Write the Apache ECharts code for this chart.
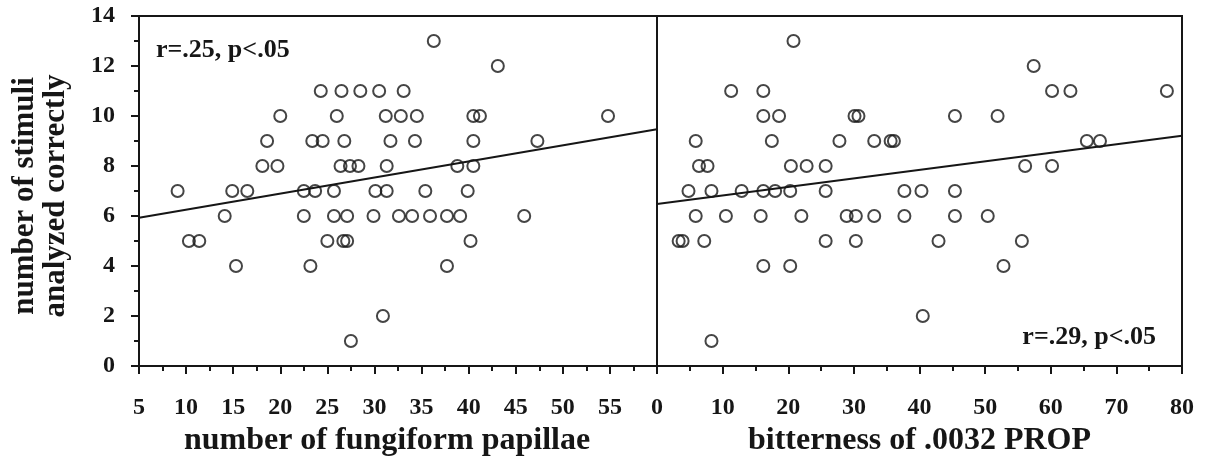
<!DOCTYPE html>
<html>
<head>
<meta charset="utf-8">
<script src="https://cdn.jsdelivr.net/npm/echarts@6/dist/echarts.min.js"></script>
<style>html,body{margin:0;padding:0;background:#fff;}#c{width:1208px;height:458px;}</style>
</head>
<body>
<div id="c"></div>
<script>
// Left panel: number of fungiform papillae vs number of stimuli analyzed correctly
var leftX = [36.3, 43.1,
  24.3, 26.5, 28.5, 30.5, 33.1,
  20.0, 26.0, 31.2, 32.8, 34.5, 40.5, 41.2, 54.8,
  18.6, 23.4, 24.5, 26.8, 31.7, 34.3, 40.5, 47.3,
  18.1, 19.7, 26.4, 27.4, 28.3, 31.3, 38.8, 40.5,
  9.1, 14.9, 16.5, 22.5, 23.7, 25.7, 30.1, 31.3, 35.4, 39.9,
  14.1, 22.5, 25.7, 27.1, 29.9, 32.6, 34.0, 35.9, 37.7, 39.1, 45.9,
  10.3, 11.4, 25.0, 26.7, 27.1, 40.2,
  15.3, 23.2, 37.7,
  30.9, 27.5];
var leftY = [13, 12,
  11, 11, 11, 11, 11,
  10, 10, 10, 10, 10, 10, 10, 10,
  9, 9, 9, 9, 9, 9, 9, 9,
  8, 8, 8, 8, 8, 8, 8, 8,
  7, 7, 7, 7, 7, 7, 7, 7, 7, 7,
  6, 6, 6, 6, 6, 6, 6, 6, 6, 6, 6,
  5, 5, 5, 5, 5, 5,
  4, 4, 4,
  2, 1];
// Right panel: bitterness of .0032 PROP
var rightX = [20.8, 57.4,
  11.3, 16.2, 60.2, 63.0, 77.7,
  16.2, 18.6, 30.1, 30.7, 45.4, 51.9,
  5.9, 17.5, 27.8, 33.1, 35.6, 36.1, 65.5, 67.5,
  6.4, 7.7, 20.4, 22.8, 25.7, 56.1, 60.2,
  4.8, 8.3, 12.9, 16.2, 18.0, 20.3, 25.7, 37.7, 40.3, 45.4,
  5.9, 10.5, 15.8, 22.0, 28.9, 30.3, 33.1, 37.7, 45.4, 50.4,
  3.3, 3.9, 7.2, 25.7, 30.3, 42.9, 55.6,
  16.2, 20.3, 52.8,
  40.5, 8.3];
var rightY = [13, 12,
  11, 11, 11, 11, 11,
  10, 10, 10, 10, 10, 10,
  9, 9, 9, 9, 9, 9, 9, 9,
  8, 8, 8, 8, 8, 8, 8,
  7, 7, 7, 7, 7, 7, 7, 7, 7, 7,
  6, 6, 6, 6, 6, 6, 6, 6, 6, 6,
  5, 5, 5, 5, 5, 5, 5,
  4, 4, 4,
  2, 1];
// Regression lines (end points)
var leftFitX = [5, 60];
var leftFitY = [5.93, 9.47];
var rightFitX = [0, 80];
var rightFitY = [6.48, 9.21];
// Labels
var yTitleLines = ['number of stimuli', 'analyzed correctly'];
var leftXTitle = 'number of fungiform papillae';
var rightXTitle = 'bitterness of .0032 PROP';
var leftStat = 'r=.25, p<.05';
var rightStat = 'r=.29, p<.05';

function zip(a, b) { return a.map(function (v, i) { return [v, b[i]]; }); }

var INK = '#161616';
var FONT = 'Liberation Serif';
var labelStyle = { fontFamily: FONT, fontWeight: 'bold', fontSize: 24, color: INK };

var chart = echarts.init(document.getElementById('c'), null, { renderer: 'canvas' });

function xAxisCfg(idx, min, max, interval, name, hideMax, namePad) {
  return {
    type: 'value', gridIndex: idx, min: min, max: max, interval: interval,
    name: name, nameLocation: 'middle', nameGap: 47,
    nameTextStyle: { fontFamily: FONT, fontWeight: 'bold', fontSize: 32, color: INK, padding: namePad },
    axisLine: { show: true, onZero: false, lineStyle: { color: INK, width: 2 } },
    axisTick: { show: true, length: 8, lineStyle: { color: INK, width: 2 } },
    minorTick: { show: true, splitNumber: 2, length: 5, lineStyle: { color: INK, width: 2 } },
    splitLine: { show: false },
    axisLabel: Object.assign({ margin: 30, showMinLabel: true, showMaxLabel: true,
      formatter: function (v) { return (hideMax && v === max) ? '' : String(v); } }, labelStyle)
  };
}

chart.setOption({
  animation: false,
  backgroundColor: '#fff',
  grid: [
    { left: 139, top: 16, width: 518, height: 350, outerBoundsMode: 'none', containLabel: false,
      show: true, borderColor: INK, borderWidth: 2, backgroundColor: 'transparent' },
    { left: 657, top: 16, width: 525, height: 350, outerBoundsMode: 'none', containLabel: false,
      show: true, borderColor: INK, borderWidth: 2, backgroundColor: 'transparent' }
  ],
  xAxis: [
    xAxisCfg(0, 5, 60, 5, leftXTitle, true, [0, 22, 0, 0]),
    xAxisCfg(1, 0, 80, 10, rightXTitle, false, [0, 0, 0, 0])
  ],
  yAxis: [
    {
      type: 'value', gridIndex: 0, min: 0, max: 14, interval: 2,
      axisLine: { show: true, onZero: false, lineStyle: { color: INK, width: 2 } },
      axisTick: { show: true, length: 8, lineStyle: { color: INK, width: 2 } },
      minorTick: { show: true, splitNumber: 2, length: 5, lineStyle: { color: INK, width: 2 } },
      splitLine: { show: false },
      axisLabel: Object.assign({ margin: 24 }, labelStyle)
    },
    {
      type: 'value', gridIndex: 1, min: 0, max: 14, interval: 2,
      axisLine: { show: true, onZero: false, lineStyle: { color: INK, width: 2 } },
      axisTick: { show: false }, minorTick: { show: false },
      splitLine: { show: false }, axisLabel: { show: false }
    }
  ],
  series: [
    {
      type: 'scatter', xAxisIndex: 0, yAxisIndex: 0, data: zip(leftX, leftY),
      symbol: 'circle', symbolSize: 12,
      itemStyle: { color: 'rgba(0,0,0,0)', borderColor: INK, borderWidth: 2 }
    },
    {
      type: 'scatter', xAxisIndex: 1, yAxisIndex: 1, data: zip(rightX, rightY),
      symbol: 'circle', symbolSize: 12,
      itemStyle: { color: 'rgba(0,0,0,0)', borderColor: INK, borderWidth: 2 }
    },
    {
      type: 'line', xAxisIndex: 0, yAxisIndex: 0, data: zip(leftFitX, leftFitY),
      showSymbol: false, symbol: 'none', lineStyle: { color: INK, width: 2 }
    },
    {
      type: 'line', xAxisIndex: 1, yAxisIndex: 1, data: zip(rightFitX, rightFitY),
      showSymbol: false, symbol: 'none', lineStyle: { color: INK, width: 2 }
    }
  ],
  graphic: [
    { type: 'text', x: 25, y: 196, rotation: Math.PI / 2,
      style: { text: yTitleLines[0], font: 'bold 31px "Liberation Serif"', fill: INK, align: 'center', verticalAlign: 'middle' } },
    { type: 'text', x: 56, y: 196, rotation: Math.PI / 2,
      style: { text: yTitleLines[1], font: 'bold 31px "Liberation Serif"', fill: INK, align: 'center', verticalAlign: 'middle' } },
    { type: 'text', x: 156, y: 50,
      style: { text: leftStat, font: 'bold 26px "Liberation Serif"', fill: INK, align: 'left', verticalAlign: 'middle' } },
    { type: 'text', x: 1156, y: 337,
      style: { text: rightStat, font: 'bold 26px "Liberation Serif"', fill: INK, align: 'right', verticalAlign: 'middle' } }
  ]
});
</script>
</body>
</html>
